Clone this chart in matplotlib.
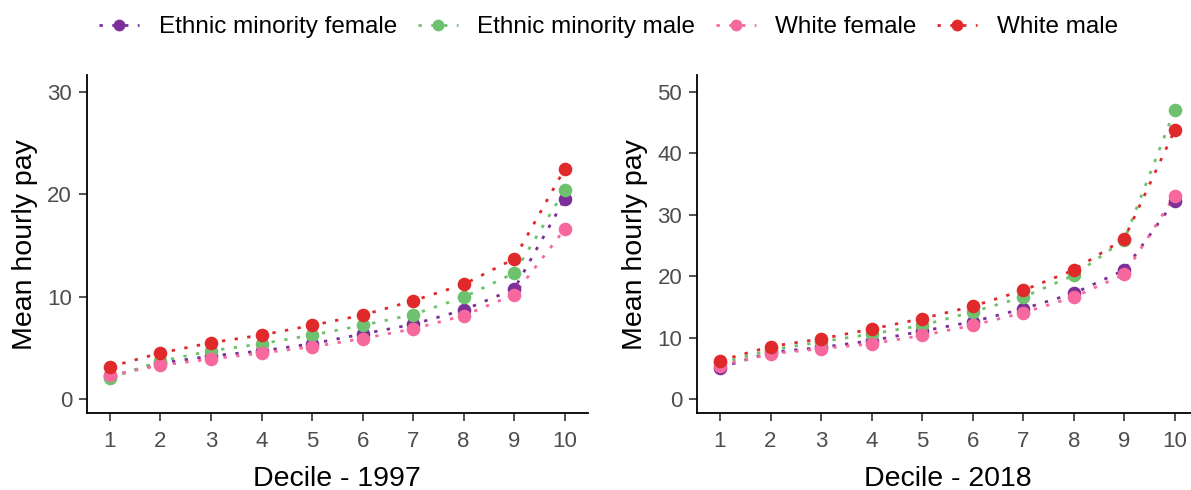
import matplotlib
matplotlib.use("Agg")
import matplotlib.pyplot as plt
from matplotlib.lines import Line2D

plt.rcParams['font.family'] = ['Liberation Sans', 'DejaVu Sans']

deciles = [1, 2, 3, 4, 5, 6, 7, 8, 9, 10]
series_names = ["Ethnic minority female", "Ethnic minority male", "White female", "White male"]
colors = ["#7B2F97", "#6EC26F", "#F7689F", "#E0292A"]

pay_1997 = {
    "Ethnic minority female": [2.2, 3.5, 4.2, 4.7, 5.4, 6.35, 7.3, 8.7, 10.75, 19.55],
    "Ethnic minority male":   [2.05, 3.7, 4.7, 5.4, 6.25, 7.2, 8.25, 9.95, 12.3, 20.4],
    "White female":           [2.3, 3.3, 3.9, 4.5, 5.1, 5.9, 6.85, 8.15, 10.2, 16.6],
    "White male":             [3.15, 4.5, 5.5, 6.25, 7.2, 8.2, 9.6, 11.2, 13.7, 22.5],
}
pay_2018 = {
    "Ethnic minority female": [5.1, 7.6, 8.4, 9.5, 11.05, 12.6, 14.7, 17.2, 21.0, 32.3],
    "Ethnic minority male":   [5.8, 8.0, 9.3, 10.6, 12.0, 14.2, 16.6, 20.15, 25.9, 47.1],
    "White female":           [5.45, 7.35, 8.2, 9.0, 10.35, 12.0, 14.05, 16.6, 20.3, 33.1],
    "White male":             [6.25, 8.55, 9.8, 11.4, 13.1, 15.1, 17.7, 21.0, 26.1, 43.8],
}
yticks_1997 = [0, 10, 20, 30]
yticks_2018 = [0, 10, 20, 30, 40, 50]

DOT = (0, (1.2, 3.4))

fig = plt.figure(figsize=(11.91, 4.90), dpi=100)
ax1 = fig.add_axes([0.0728, 0.1565, 0.4209, 0.6904])
ax2 = fig.add_axes([0.5850, 0.1565, 0.4209, 0.6904])

def style(ax, data, yticks, xlabel, ylim):
    for name, col in zip(series_names, colors):
        ax.plot(deciles, data[name], linestyle=DOT, color=col, lw=2.0,
                zorder=2, dash_capstyle='butt')
    for name, col in zip(series_names, colors):
        ax.plot(deciles, data[name], linestyle='none', marker='o', ms=9.8,
                color=col, markeredgewidth=0, zorder=3)
    ax.set_ylim(*ylim)
    ax.set_xlim(0.54, 10.46)
    ax.set_xticks(deciles)
    ax.set_yticks(yticks)
    for s in ['top', 'right']:
        ax.spines[s].set_visible(False)
    for s in ['left', 'bottom']:
        ax.spines[s].set_linewidth(1.3)
        ax.spines[s].set_color('black')
    ax.tick_params(axis='both', length=5.5, width=1.2, color='#333333',
                   labelsize=16, labelcolor='#4D4D4D', pad=5)
    ax.tick_params(axis='x', pad=7)
    ax.set_xlabel(xlabel, fontsize=20.5, color='black', labelpad=10)
    ax.set_ylabel("Mean hourly pay", fontsize=20.5, color='black', labelpad=7)

style(ax1, pay_1997, yticks_1997, "Decile - 1997", (-1.40, 31.66))
style(ax2, pay_2018, yticks_2018, "Decile - 2018", (-2.33, 52.77))

handles = [Line2D([0], [0], color=c, linestyle=DOT, lw=2.0,
                  marker='o', ms=8.5, markeredgewidth=0) for c in colors]
fig.legend(handles, series_names, loc='center', bbox_to_anchor=(0.511, 0.944),
           ncol=4, frameon=False, fontsize=17.5, handlelength=1.65,
           columnspacing=0.85, handletextpad=0.8)

fig.savefig("out.png", dpi=100)
